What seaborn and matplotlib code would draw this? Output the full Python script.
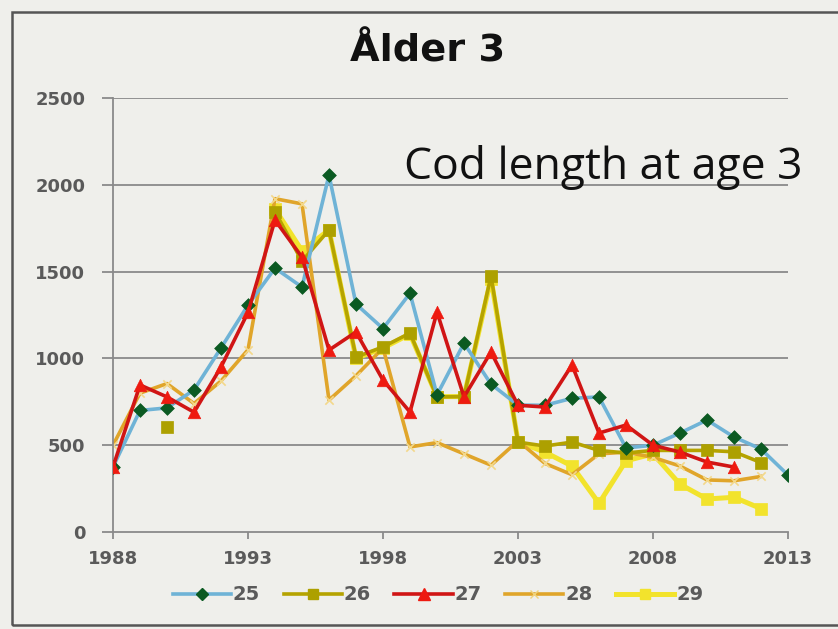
import numpy as np
import pandas as pd
import matplotlib
matplotlib.use("Agg")
import matplotlib.pyplot as plt
from matplotlib.lines import Line2D
from matplotlib.patches import Rectangle
import seaborn as sns

nan = np.nan
years = list(range(1988, 2014))
s25 = [375, 700, 715, 818, 1060, 1307, 1520, 1411, 2056, 1313, 1172, 1375, 790,
       1088, 852, 731, 730, 770, 778, 484, 500, 570, 645, 547, 478, 328]
s26 = [nan, nan, 605, nan, nan, nan, 1845, 1560, 1740, 1008, 1066, 1146, 778,
       780, 1475, 518, 495, 518, 470, 455, 470, 470, 470, 462, 400, nan]
s27 = [375, 847, 778, 690, 950, 1265, 1797, 1583, 1048, 1152, 875, 691, 1267,
       778, 1037, 730, 720, 962, 570, 616, 500, 460, 403, 374, nan, nan]
s28 = [500, 800, 855, 740, 870, 1050, 1920, 1890, 760, 900, 1060, 490, 515,
       450, 385, 525, 395, 330, 450, 460, 430, 380, 300, 295, 320, nan]
s29 = [nan, nan, nan, nan, nan, nan, 1860, 1620, 1740, 1000, 1060, 1140, 780,
       780, 1460, 520, 460, 380, 165, 410, 450, 275, 190, 200, 135, nan]
series_names = ["25", "26", "27", "28", "29"]
x_ticks = [1988, 1993, 1998, 2003, 2008, 2013]
y_ticks = [0, 500, 1000, 1500, 2000, 2500]

styles = {
    "25": dict(line="#6fb3d6", mfc="#0b5a22", mec="#0b5a22", marker="D", ms=7, lw=2.6, z=4),
    "26": dict(line="#b5a300", mfc="#ada000", mec="#ada000", marker="s", ms=8.5, lw=2.6, z=3),
    "27": dict(line="#d01515", mfc="#ee1a10", mec="#ee1a10", marker="^", ms=9, lw=2.6, z=5),
    "28": dict(line="#e0a52a", mfc="#f3d88a", mec="#f0d27a", marker="x", ms=6, lw=2.6, z=2),
    "29": dict(line="#f2e32c", mfc="#f2e32c", mec="#f2e32c", marker="s", ms=8.5, lw=3.6, z=1),
}

data = {"25": s25, "26": s26, "27": s27, "28": s28, "29": s29}

bg = "#efefeb"
fig = plt.figure(figsize=(8.38, 6.29), dpi=100, facecolor=bg)
ax = fig.add_axes([113/838, 1-532/629, (788-113)/838, (532-98)/629])
ax.set_facecolor(bg)

for name in ["29", "28", "26", "25", "27"]:
    vals = pd.Series(data[name], index=years, dtype=float)
    seg = vals.isna().cumsum()
    df = pd.DataFrame({"year": years, "value": vals.values, "seg": seg.values}).dropna()
    st = styles[name]
    sns.lineplot(data=df, x="year", y="value", units="seg", estimator=None,
                 color=st["line"], lw=st["lw"], ax=ax, zorder=st["z"], legend=False)
    sns.scatterplot(data=df, x="year", y="value", marker=st["marker"],
                    color=st["mfc"], edgecolor=st["mec"], s=st["ms"]**2,
                    linewidth=1.2 if st["marker"] == "x" else 0.5,
                    ax=ax, zorder=st["z"] + 0.5, legend=False)

ax.set_xlim(1988, 2013)
ax.set_ylim(0, 2500)
ax.set_xticks(x_ticks)
ax.set_yticks(y_ticks)
ax.set_xlabel("")
ax.set_ylabel("")
for yv in y_ticks[1:]:
    ax.axhline(yv, color="#8a8a8a", lw=1.3, zorder=0)
for side in ["top", "right"]:
    ax.spines[side].set_visible(False)
for side in ["left", "bottom"]:
    ax.spines[side].set_color("#8a8a8a")
    ax.spines[side].set_linewidth(1.3)
ax.tick_params(axis="y", length=8, width=1.3, color="#8a8a8a", pad=12)
ax.tick_params(axis="x", length=5, width=1.3, color="#8a8a8a", pad=8)
for lab in ax.get_xticklabels() + ax.get_yticklabels():
    lab.set_fontfamily("DejaVu Sans")
    lab.set_fontweight("bold")
    lab.set_color("#5a5a5a")
    lab.set_fontsize(13)

fig.text(428/838, 1-52/629, "Ålder 3", ha="center", va="center",
         fontsize=27.5, fontweight="bold", family="DejaVu Sans", color="#111111")
fig.text(404/838, 1-168/629, "Cod length at age 3", ha="left", va="center",
         fontsize=32, family="Open Sans", color="#111111")

handles = []
for name in series_names:
    st = styles[name]
    handles.append(Line2D([0], [0], color=st["line"], lw=st["lw"], marker=st["marker"],
                          markerfacecolor=st["mfc"], markeredgecolor=st["mec"],
                          markersize=st["ms"] * 0.9))
leg = fig.legend(handles, series_names, loc="center", bbox_to_anchor=(438/838, 1-595/629),
                 ncol=5, frameon=False, handlelength=3.0, columnspacing=1.2,
                 handletextpad=0.1, prop={"family": "DejaVu Sans", "weight": "bold", "size": 14})
for t in leg.get_texts():
    t.set_color("#5a5a5a")

fig.patches.append(Rectangle((12/838, 4/629), 860/838, 1-16/629, transform=fig.transFigure,
                             fill=False, edgecolor="#555555", lw=1.8, zorder=0))

fig.savefig("out.png", dpi=100, facecolor=bg)
